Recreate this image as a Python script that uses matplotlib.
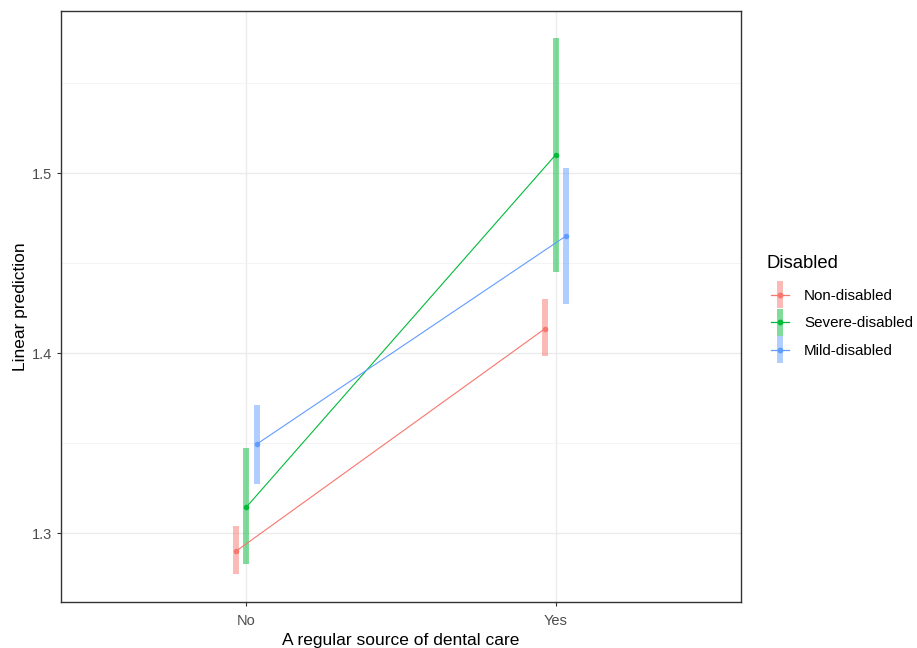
import matplotlib
matplotlib.use("Agg")
import matplotlib.pyplot as plt
from matplotlib.lines import Line2D
from matplotlib.legend_handler import HandlerBase
import numpy as np

plt.rcParams['font.family'] = ['Liberation Sans', 'DejaVu Sans']

categories = ["No", "Yes"]
groups = ["Non-disabled", "Severe-disabled", "Mild-disabled"]
colors = ["#F8766D", "#00BA38", "#619CFF"]

estimates = {
    "Non-disabled":    [1.290, 1.4137],
    "Severe-disabled": [1.3146, 1.5102],
    "Mild-disabled":   [1.3496, 1.4652],
}
ci_low = {
    "Non-disabled":    [1.2774, 1.3985],
    "Severe-disabled": [1.2829, 1.4450],
    "Mild-disabled":   [1.3274, 1.4272],
}
ci_high = {
    "Non-disabled":    [1.3041, 1.4303],
    "Severe-disabled": [1.3474, 1.5754],
    "Mild-disabled":   [1.3713, 1.5028],
}

fig = plt.figure(figsize=(9.17, 6.48), dpi=100)
ax = fig.add_axes([61/917, 1-602/648, (741-61)/917, (602-11)/648])

dodge = [-0.034, 0.0, 0.034]
xbase = np.arange(1, len(categories) + 1)

for g, c, d in zip(groups, colors, dodge):
    xs = xbase + d
    est = np.array(estimates[g])
    lo = np.array(ci_low[g])
    hi = np.array(ci_high[g])
    ax.vlines(xs, lo, hi, colors=c, linewidth=4.3, alpha=0.5, zorder=3)
    ax.plot(xs, est, color=c, linewidth=0.8, zorder=4)
    ax.scatter(xs, est, color=c, s=16, zorder=5, linewidths=0)

ax.set_xlim(0.4, 2.6)
ax.set_ylim(1.2618, 1.5902)
ax.set_xticks(xbase)
ax.set_xticklabels(categories)
ax.set_yticks([1.3, 1.4, 1.5])
ax.set_yticklabels(["1.3", "1.4", "1.5"])
ax.set_yticks([1.35, 1.45, 1.55], minor=True)

ax.grid(True, which='major', color='#EBEBEB', linewidth=1.0, zorder=0)
ax.grid(True, which='minor', axis='y', color='#F2F2F2', linewidth=0.6, zorder=0)
ax.set_axisbelow(True)
for s in ax.spines.values():
    s.set_color('#333333')
    s.set_linewidth(1.0)
ax.tick_params(axis='both', which='major', length=3, color='#333333', labelcolor='#4D4D4D', labelsize=10.5)
ax.tick_params(axis='y', which='minor', length=0)
ax.tick_params(axis='x', pad=5.5)

ax.set_xlabel("A regular source of dental care", fontsize=12.5, labelpad=4)
ax.set_ylabel("Linear prediction", fontsize=12.5, labelpad=3)


class ErrKeyHandler(HandlerBase):
    def __init__(self, color):
        super().__init__()
        self.color = color

    def create_artists(self, legend, orig_handle, xdescent, ydescent, width, height, fontsize, trans):
        cx = width / 2 - xdescent
        cy = height / 2 - ydescent
        vbar = Line2D([cx, cx], [cy - 7.5, cy + 7.5], color=self.color, alpha=0.5, linewidth=4.3, transform=trans)
        hline = Line2D([cx - 6.5, cx + 6.5], [cy, cy], color=self.color, linewidth=0.9, transform=trans)
        pt = Line2D([cx], [cy], marker='o', markersize=4.2, markeredgewidth=0, color=self.color, linestyle='None', transform=trans)
        return [vbar, hline, pt]


fig.text(767/917, 1-268/648, "Disabled", fontsize=13.3, ha='left', va='baseline', color='black')

handles = [Line2D([], [], color=c) for c in colors]
handler_map = {h: ErrKeyHandler(c) for h, c in zip(handles, colors)}
leg = fig.legend(handles, groups, handler_map=handler_map,
                 loc='upper left', bbox_to_anchor=(767/917, 1-288/648),
                 frameon=False, fontsize=10.9,
                 handlelength=1.7, handleheight=1.0, handletextpad=0.75,
                 labelspacing=0.82, borderaxespad=0, borderpad=0)

fig.savefig("out.png", dpi=100)
